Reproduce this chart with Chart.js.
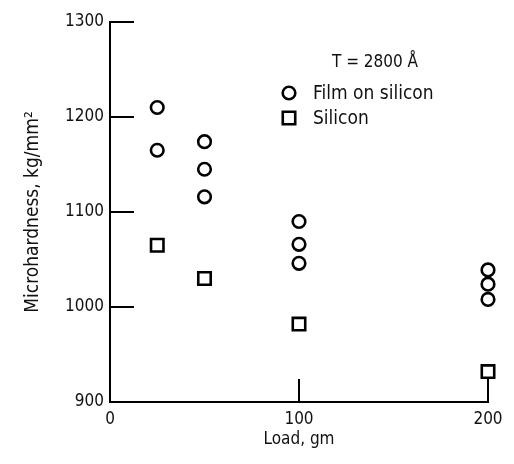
<!DOCTYPE html>
<html>
<head>
<meta charset="utf-8">
<script src="https://cdn.jsdelivr.net/npm/chart.js@4"></script>
<style>
  html, body { margin: 0; padding: 0; background: #fff; }
  #wrap { width: 514px; height: 464px; }
</style>
</head>
<body>
<div id="wrap"><canvas id="c" width="514" height="464"></canvas></div>
<script>
// ---- data ----
const filmLoads = [25, 25, 50, 50, 50, 100, 100, 100, 200, 200, 200];
const filmHardness = [1210, 1165, 1174, 1145, 1116, 1090, 1066, 1046, 1039, 1024, 1008];
const siliconLoads = [25, 50, 100, 200];
const siliconHardness = [1065, 1030, 982, 932];
const xTickValues = [0, 100, 200];
const yTickValues = [900, 1000, 1100, 1200, 1300];
const xInnerMarks = [100, 200];
const yInnerMarks = [1000, 1100, 1200, 1300];
const legendTitle = 'T = 2800 Å';
const xTitle = 'Load, gm';
const yTitle = 'Microhardness, kg/mm²';

const FONT = "'DejaVu Sans Condensed', 'Liberation Sans Narrow', sans-serif";

const toPts = (xs, ys) => xs.map((x, i) => ({ x: x, y: ys[i] }));

const innerTicks = {
  id: 'innerTicks',
  afterDatasetsDraw(chart) {
    const { ctx, scales: { x, y } } = chart;
    ctx.save();
    ctx.strokeStyle = '#000';
    ctx.lineWidth = 2;
    ctx.beginPath();
    yInnerMarks.forEach(v => {
      const py = Math.round(y.getPixelForValue(v));
      ctx.moveTo(x.left, py);
      ctx.lineTo(x.left + 24, py);
    });
    xInnerMarks.forEach(v => {
      const px = Math.round(x.getPixelForValue(v));
      ctx.moveTo(px, y.bottom);
      ctx.lineTo(px, y.bottom - 23);
    });
    ctx.stroke();
    ctx.restore();
  }
};

const customLegend = {
  id: 'customLegend',
  afterDraw(chart) {
    const { ctx } = chart;
    ctx.save();
    ctx.fillStyle = '#111';
    ctx.font = "17px " + FONT;
    ctx.textAlign = 'center';
    ctx.textBaseline = 'middle';
    ctx.fillText(legendTitle, 375, 63);
    const rows = [93, 118];
    chart.data.datasets.forEach((ds, i) => {
      const meta = chart.getDatasetMeta(i);
      const o = meta.data[0].options;
      ctx.lineWidth = o.borderWidth;
      ctx.strokeStyle = o.borderColor;
      ctx.fillStyle = 'rgba(0,0,0,0)';
      Chart.helpers.drawPoint(ctx, { pointStyle: o.pointStyle, radius: o.radius, rotation: 0, borderWidth: o.borderWidth }, 289, rows[i]);
      ctx.fillStyle = '#111';
      ctx.textAlign = 'left';
      ctx.font = "19px " + FONT;
      ctx.fillText(ds.label, 313, rows[i] + 1);
    });
    ctx.restore();
  }
};

new Chart(document.getElementById('c'), {
  type: 'scatter',
  data: {
    datasets: [
      {
        label: 'Film on silicon',
        data: toPts(filmLoads, filmHardness),
        pointStyle: 'circle',
        pointRadius: 6.3,
        pointHoverRadius: 6.3,
        borderColor: '#000',
        backgroundColor: 'rgba(0,0,0,0)',
        pointBorderWidth: 2.6,
        clip: false
      },
      {
        label: 'Silicon',
        data: toPts(siliconLoads, siliconHardness),
        pointStyle: 'rect',
        pointRadius: 8.8,
        pointHoverRadius: 8.8,
        borderColor: '#000',
        backgroundColor: 'rgba(0,0,0,0)',
        pointBorderWidth: 2.6,
        clip: false
      }
    ]
  },
  options: {
    responsive: false,
    animation: false,
    events: [],
    layout: { padding: { top: 22, right: 26, left: 0, bottom: 0 } },
    plugins: {
      legend: { display: false },
      tooltip: { enabled: false },
      title: { display: false }
    },
    scales: {
      x: {
        type: 'linear',
        min: 0,
        max: 200,
        afterBuildTicks(scale) { scale.ticks = xTickValues.map(v => ({ value: v })); },
        afterFit(scale) { scale.height = 62; },
        grid: { display: false, drawTicks: false },
        border: { display: true, color: '#000', width: 2 },
        ticks: {
          color: '#111',
          padding: 7,
          maxRotation: 0,
          font: { family: FONT, size: 17 },
          callback: v => String(v)
        },
        title: {
          display: true,
          text: xTitle,
          color: '#111',
          font: { family: FONT, size: 17 },
          padding: { top: 0, bottom: 14 }
        }
      },
      y: {
        type: 'linear',
        min: 900,
        max: 1300,
        afterBuildTicks(scale) { scale.ticks = yTickValues.map(v => ({ value: v })); },
        afterFit(scale) { scale.width = 110; },
        grid: { display: false, drawTicks: false },
        border: { display: true, color: '#000', width: 2 },
        ticks: {
          color: '#111',
          padding: 6,
          font: { family: FONT, size: 17 },
          callback: v => String(v)
        },
        title: {
          display: true,
          text: yTitle,
          color: '#111',
          font: { family: FONT, size: 19 },
          padding: { top: 22, bottom: 0 }
        }
      }
    }
  },
  plugins: [innerTicks, customLegend]
});
</script>
</body>
</html>
